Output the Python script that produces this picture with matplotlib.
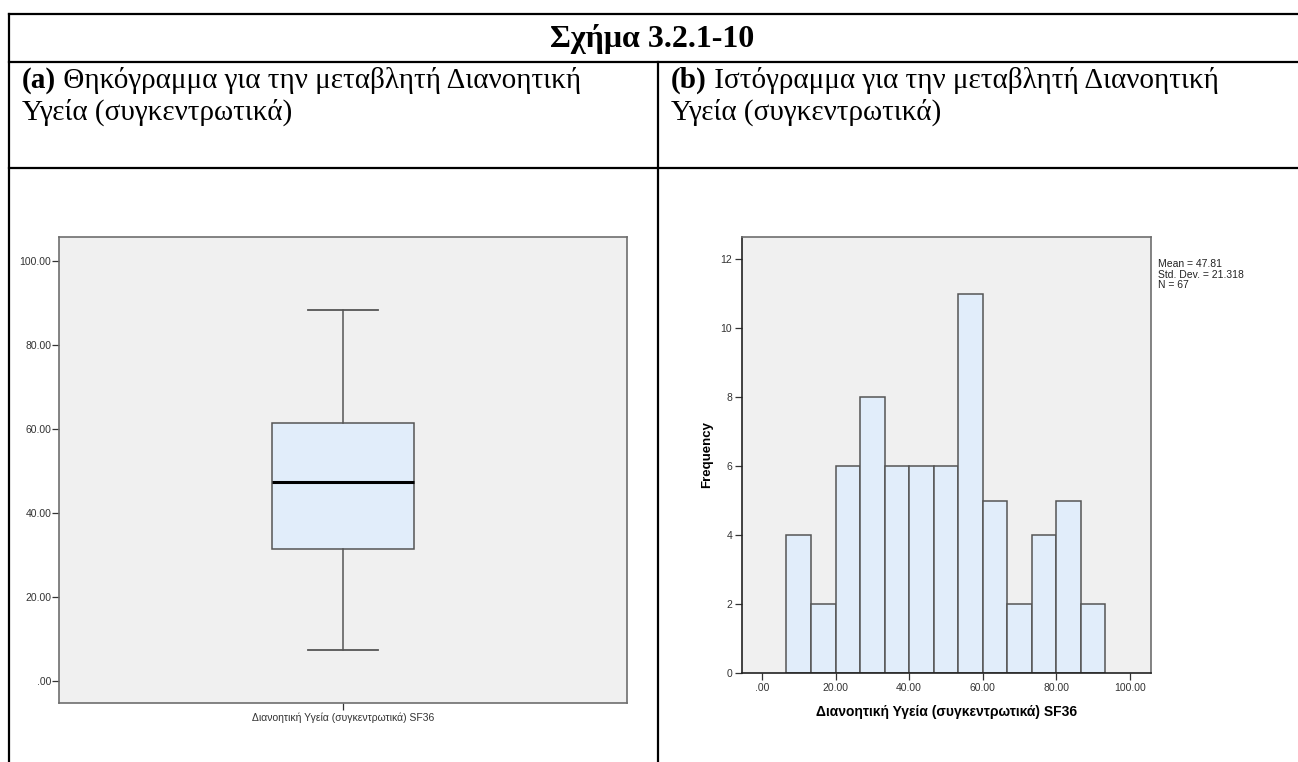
import numpy as np
import matplotlib
matplotlib.use('Agg')
import matplotlib.pyplot as plt
from matplotlib.lines import Line2D

# boxplot summary (Mental health SF36, aggregated)
box_label = 'Διανοητική Υγεία (συγκεντρωτικά) SF36'
box_whislo = 7.3
box_q1 = 31.5
box_med = 47.5
box_q3 = 61.5
box_whishi = 88.3

# histogram bins and counts
bin_edges = [6.67, 13.33, 20.0, 26.67, 33.33, 40.0, 46.67, 53.33, 60.0, 66.67, 73.33, 80.0, 86.67, 93.33]
counts = [4, 2, 6, 8, 6, 6, 6, 11, 5, 2, 4, 5, 2]
stats_text = ['Mean = 47.81', 'Std. Dev. = 21.318', 'N = 67']

value_ticks = [0, 20, 40, 60, 80, 100]
freq_ticks = [0, 2, 4, 6, 8, 10, 12]

title = 'Σχήμα 3.2.1-10'
cap_a = ['(a)', ' Θηκόγραμμα για την μεταβλητή Διανοητική', 'Υγεία (συγκεντρωτικά)']
cap_b = ['(b)', ' Ιστόγραμμα για την μεταβλητή Διανοητική', 'Υγεία (συγκεντρωτικά)']

W, H = 1298, 762
SANS = ['Liberation Sans', 'DejaVu Sans']
SERIF = ['Liberation Serif', 'DejaVu Serif']
BG = '#f0f0f0'
FILL = '#e1edfa'
EDGE = '#555555'


def rect(l, t, r, b):
    return [l / W, 1 - b / H, (r - l) / W, (b - t) / H]


def fx(x):
    return x / W


def fy(y):
    return 1 - y / H


def fmt(v):
    return f'{v:.2f}'.lstrip('0') if v == 0 else f'{v:.2f}'


fig = plt.figure(figsize=(W / 100, H / 100), dpi=100, facecolor='white')

# ---- table frame
lw_tab = 1.6
for y in (14, 62, 168):
    fig.add_artist(Line2D([fx(9), 1], [fy(y), fy(y)], color='black', lw=lw_tab))
fig.add_artist(Line2D([fx(9), fx(9)], [fy(14), 0], color='black', lw=lw_tab))
fig.add_artist(Line2D([fx(658), fx(658)], [fy(62), 0], color='black', lw=lw_tab))

fig.text(fx(652), fy(39), title, family=SERIF, weight='bold', size=23,
         ha='center', va='center')

renderer = fig.canvas.get_renderer()


def caption(x, parts):
    t = fig.text(fx(x), fy(88), parts[0], family=SERIF, weight='bold', size=21,
                 ha='left', va='baseline')
    w = t.get_window_extent(renderer).width
    fig.text(fx(x + w), fy(88), parts[1], family=SERIF, size=21,
             ha='left', va='baseline')
    fig.text(fx(x), fy(120), parts[2], family=SERIF, size=21,
             ha='left', va='baseline')


caption(22, cap_a)
caption(671, cap_b)

# ---- (a) boxplot
ax1 = fig.add_axes(rect(59, 237, 627, 703))
ax1.set_facecolor(BG)
stats = [dict(whislo=box_whislo, q1=box_q1, med=box_med, q3=box_q3,
              whishi=box_whishi, fliers=[], label=box_label)]
ax1.bxp(stats, positions=[1], widths=0.25, capwidths=0.123, patch_artist=True,
        showfliers=False,
        boxprops=dict(facecolor=FILL, edgecolor=EDGE, lw=1.1),
        whiskerprops=dict(color=EDGE, lw=1.1),
        capprops=dict(color=EDGE, lw=1.3),
        medianprops=dict(color='black', lw=2.2))
ax1.set_xlim(0.5, 1.5)
ax1.set_ylim(-5.2, 105.7)
ax1.set_yticks(value_ticks)
ax1.set_yticklabels([fmt(v) for v in value_ticks])
ax1.set_xticks([1])
ax1.set_xticklabels([box_label])
for s in ax1.spines.values():
    s.set_color('#6e6e6e')
    s.set_linewidth(1.2)
ax1.tick_params(axis='y', length=5, width=0.9, pad=0.5, labelsize=7.5, colors='#333333')
ax1.tick_params(axis='x', length=5, width=0.9, pad=2, labelsize=7.5, colors='#333333')
for lab in ax1.get_xticklabels() + ax1.get_yticklabels():
    lab.set_family(SANS)

# ---- (b) histogram
ax2 = fig.add_axes(rect(742, 237, 1151, 673))
ax2.set_facecolor(BG)
ax2.bar(bin_edges[:-1], counts, width=np.diff(bin_edges), align='edge',
        color=FILL, edgecolor=EDGE, lw=1.1)
ax2.set_xlim(-5.4, 105.7)
ax2.set_ylim(0, 12.64)
ax2.set_xticks(value_ticks)
ax2.set_xticklabels([fmt(v) for v in value_ticks])
ax2.set_yticks(freq_ticks)
for side in ('top', 'right'):
    ax2.spines[side].set_color('#6e6e6e')
    ax2.spines[side].set_linewidth(1.2)
for side in ('left', 'bottom'):
    ax2.spines[side].set_color('#222222')
    ax2.spines[side].set_linewidth(1.2)
ax2.tick_params(length=5, width=0.9, pad=2, labelsize=7.5, colors='#333333')
for lab in ax2.get_xticklabels() + ax2.get_yticklabels():
    lab.set_family(SANS)
ax2.set_xlabel(box_label, family=SANS, weight='bold', size=10, labelpad=9)
ax2.set_ylabel('Frequency', family=SANS, weight='bold', size=9.5, labelpad=5)

for i, s in enumerate(stats_text):
    fig.text(fx(1158), fy(264 + i * 10.5), s, family=SANS, size=7.5,
             ha='left', va='center', color='#222222')

fig.savefig('out.png', dpi=100, facecolor='white')
